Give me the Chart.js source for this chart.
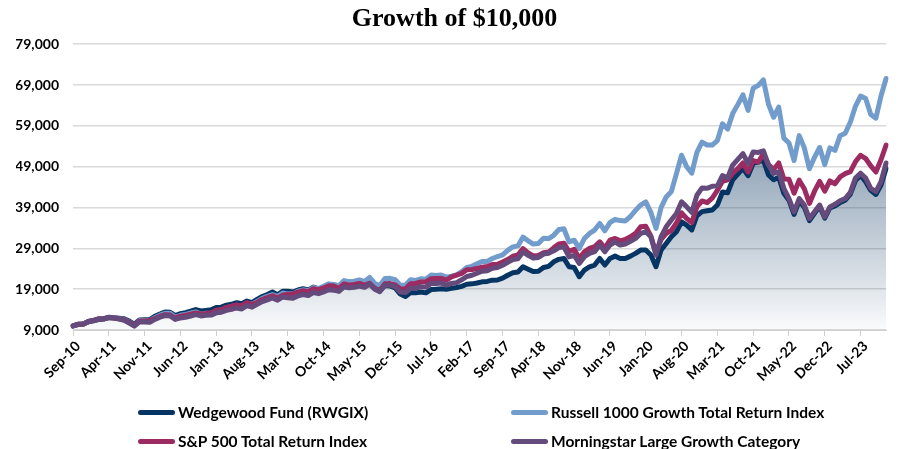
<!DOCTYPE html>
<html>
<head>
<meta charset="utf-8">
<script src="https://cdn.jsdelivr.net/npm/chart.js@4/dist/chart.umd.min.js"></script>
<style>
html,body{margin:0;padding:0;background:#fff;}
#wrap{position:relative;width:900px;height:449px;overflow:hidden;}
canvas{position:absolute;left:0;top:0;}
.leg{position:absolute;height:18px;font:bold 15.5px Lato, "Open Sans", sans-serif;color:#000;white-space:nowrap;display:flex;align-items:center;}
.leg .sw{display:inline-block;width:37px;height:5px;border-radius:3px;margin-right:3px;}
</style>
</head>
<body>
<div id="wrap"><canvas id="c" width="900" height="449"></canvas><div id="legend"></div></div>
<script>
// ---- categories: monthly, Sep-10 .. Dec-23 ----
const MONTH_NAMES = ['Jan','Feb','Mar','Apr','May','Jun','Jul','Aug','Sep','Oct','Nov','Dec'];
const months = [];
for (let k = 0; k < 160; k++) {
  const m = (8 + k) % 12, y = 2010 + Math.floor((8 + k) / 12);
  months.push(MONTH_NAMES[m] + '-' + String(y % 100).padStart(2, '0'));
}
const TICK_EVERY = 7;

// ---- series values (growth of $10,000) ----
const wedgewood = [
  10000,10350,10500,11000,11250,11550,11700,12050,12000,11900,
  11750,11200,10400,11450,11500,11550,12350,12900,13400,13350,
  12550,13000,13250,13600,14000,13650,13800,13950,14500,14600,
  15100,15300,15700,15450,16100,15700,16500,17200,17700,18300,
  17600,18500,18500,18300,18800,19100,18800,19500,19100,19300,
  19900,19700,19300,20300,20000,20100,20400,20050,20600,19200,
  18600,19900,19800,19300,17800,17200,18200,18100,18300,18100,
  18900,19000,19100,19000,19200,19400,19700,20200,20300,20500,
  20800,20900,21200,21250,21700,22400,23000,23200,24500,23900,
  23300,23400,24300,24600,25700,26300,26530,24490,24300,22050,
  23680,24490,24900,26530,24900,26530,27100,26530,26530,27100,
  27760,28580,28580,27350,24490,28580,30210,31840,33060,35500,
  34700,33500,37000,38000,38200,38400,39600,42800,42600,45800,
  47200,48600,46800,49800,50200,50600,47000,45800,46400,42500,
  40800,37300,40600,39100,35800,37600,39300,36400,38900,39400,
  40200,40800,42300,45600,46900,45300,43200,42200,44500,48600
];
const russell1000g = [
  10000,10400,10450,11100,11350,11750,11800,12150,12050,11850,
  11600,10950,10200,11300,11300,11300,12000,12650,13100,13100,
  12150,12600,12800,13150,13450,12900,13100,13100,13700,13900,
  14450,14750,15050,14750,15550,15300,16000,16750,17250,17700,
  17200,18050,17850,17850,18500,18850,18650,19400,19150,19700,
  20300,20150,19850,21100,20850,20950,21250,20900,21900,20400,
  19900,21600,21650,21300,19950,19950,21300,21150,21550,21450,
  22450,22350,22450,21950,22200,22500,23300,24300,24600,25200,
  25800,25800,26500,27000,27400,28500,29350,29600,31750,30850,
  30050,30200,31450,31400,32200,33600,33800,30600,31000,29000,
  31400,32650,33470,35100,33300,35300,36100,35800,35700,36800,
  38300,39600,40400,37800,33900,39000,41600,42900,47300,51800,
  49000,47400,52500,55000,54300,54300,55400,59500,58200,62000,
  64200,66600,62800,68200,68900,70250,64300,61100,63600,56000,
  54800,50500,56600,53600,48500,51300,53700,49500,53600,53000,
  56600,57200,59900,63800,66300,65700,61800,60900,66300,70600
];
const sp500 = [
  10000,10380,10380,11070,11340,11720,11730,12080,11940,11740,
  11510,10880,10120,11230,11200,11320,11830,12340,12740,12660,
  11900,12390,12560,12850,13180,12940,13020,13140,13820,14010,
  14530,14810,15160,14960,15720,15260,15740,16460,16960,17390,
  16790,17550,17700,17830,18250,18630,18370,19110,18840,19300,
  19820,19770,19170,20270,19950,20140,20400,20010,20430,19200,
  18720,20300,20360,20040,19040,19020,20310,20390,20760,20810,
  21580,21610,21620,21220,22010,22440,22870,23780,23810,24050,
  24390,24540,25050,25120,25650,26250,27060,27360,28920,27860,
  27150,27260,27910,28090,29130,30090,30260,28200,28770,26530,
  28170,28990,29400,30600,28990,31020,31430,30840,31170,31830,
  32650,34300,34400,32000,27800,31200,32650,33400,35200,37700,
  36300,35300,39200,40600,40200,41300,43200,45400,45800,47400,
  48500,49900,47700,50500,50100,52200,49500,48300,49900,46000,
  45900,42500,45700,43600,40000,43000,45400,43000,45500,44800,
  46500,47300,47800,50200,51800,51000,49200,47700,50700,54300
];
const morningstarLG = [
  10000,10420,10480,11080,11320,11700,11760,12100,11920,11700,
  11400,10700,9950,11000,10950,10900,11600,12150,12550,12450,
  11600,11950,12100,12400,12750,12450,12600,12650,13200,13350,
  13800,14050,14400,14150,14950,14600,15300,15950,16400,16850,
  16300,17100,16900,16800,17350,17700,17450,18150,17900,18350,
  18850,18750,18450,19550,19350,19450,19750,19450,20250,19000,
  18400,19950,20000,19600,18300,18150,19200,19250,19600,19500,
  20400,20400,20500,20000,20400,20600,21300,22100,22400,22900,
  23400,23500,24100,24300,24850,25550,26250,26450,28100,27300,
  26600,26750,27600,27800,28400,29200,29300,26900,27300,25300,
  26950,27760,28170,29800,28170,29800,30600,29800,30050,30700,
  31430,32650,33060,31840,27350,31840,34280,35920,37550,40400,
  39170,37800,42000,43800,43700,44200,44300,46800,46300,49400,
  50800,52200,49800,52600,52500,52900,49400,47350,47750,43700,
  41200,37950,41200,39600,36300,37950,39600,36700,39150,39800,
  40650,41200,42700,46200,47400,46200,43700,42900,45350,49900
];

const seriesNames = [
  'Wedgewood Fund (RWGIX)',
  'Russell 1000 Growth Total Return Index',
  'S&P 500 Total Return Index',
  'Morningstar Large Growth Category'
];
const seriesColors = ['#063564', '#729ccb', '#9b2b61', '#654a7c'];

const Y_MIN = 9000, Y_MAX = 79000, Y_STEP = 10000;
const TICK_FONT = { family: 'Lato, "Open Sans", sans-serif', size: 14, weight: 'bold' };

function fillGradient(context) {
  const chart = context.chart;
  const area = chart.chartArea;
  if (!area) return 'rgba(27,66,106,0.3)';
  const g = chart.ctx.createLinearGradient(0, area.top, 0, area.bottom);
  g.addColorStop(0, 'rgba(27,66,106,0.80)');
  g.addColorStop(0.45, 'rgba(27,66,106,0.43)');
  g.addColorStop(0.85, 'rgba(27,66,106,0.14)');
  g.addColorStop(1, 'rgba(27,66,106,0.02)');
  return g;
}

function lineDs(i, data, order, extra) {
  return Object.assign({
    label: seriesNames[i], data: data,
    borderColor: seriesColors[i], backgroundColor: seriesColors[i],
    borderWidth: 5, pointRadius: 0, pointHoverRadius: 0, tension: 0,
    borderJoinStyle: 'round', borderCapStyle: 'round',
    fill: false, order: order
  }, extra || {});
}

new Chart(document.getElementById('c'), {
  type: 'line',
  data: {
    labels: months,
    datasets: [
      lineDs(0, wedgewood, 4, { fill: 'start', backgroundColor: fillGradient }),
      lineDs(1, russell1000g, 3),
      lineDs(2, sp500, 2),
      lineDs(3, morningstarLG, 1)
    ]
  },
  options: {
    responsive: false,
    animation: false,
    devicePixelRatio: 1,
    layout: { padding: { left: 16, right: 7, top: 0, bottom: 57 } },
    plugins: {
      legend: { display: false },
      tooltip: { enabled: false },
      title: {
        display: true,
        text: 'Growth of $10,000',
        color: '#000',
        font: { family: '"Liberation Serif", "Times New Roman", serif', size: 26, weight: 'bold' },
        padding: { top: 4, bottom: 9 }
      }
    },
    scales: {
      x: {
        offset: false,
        afterFit: (s) => { s.height = 62; },
        border: { display: true, color: '#d0d0d0', width: 1 },
        grid: {
          drawOnChartArea: false,
          drawTicks: true,
          tickLength: 6,
          color: (c) => (c.index % TICK_EVERY === 0 ? '#d0d0d0' : 'rgba(0,0,0,0)')
        },
        ticks: {
          autoSkip: false,
          minRotation: 45,
          maxRotation: 45,
          padding: 2,
          labelOffset: 5,
          color: '#000',
          font: TICK_FONT,
          callback: function (v, i) { return i % TICK_EVERY === 0 ? this.getLabelForValue(v) : ''; }
        }
      },
      y: {
        min: Y_MIN, max: Y_MAX,
        afterFit: (s) => { s.width = 57; },
        border: { display: false },
        grid: { color: '#d9d9d9', lineWidth: 1.5, drawTicks: false },
        ticks: {
          stepSize: Y_STEP,
          padding: 14,
          color: '#000',
          font: TICK_FONT,
          callback: (v) => v.toLocaleString('en-US')
        }
      }
    }
  }
});

// ---- legend (2 x 2 grid) ----
const legendPos = [[138, 403], [511, 403], [138, 432], [511, 432]];
const legendEl = document.getElementById('legend');
seriesNames.forEach((name, i) => {
  const d = document.createElement('div');
  d.className = 'leg';
  d.style.left = legendPos[i][0] + 'px';
  d.style.top = legendPos[i][1] + 'px';
  const sw = document.createElement('span');
  sw.className = 'sw';
  sw.style.background = seriesColors[i];
  d.appendChild(sw);
  d.appendChild(document.createTextNode(name));
  legendEl.appendChild(d);
});
</script>
</body>
</html>
